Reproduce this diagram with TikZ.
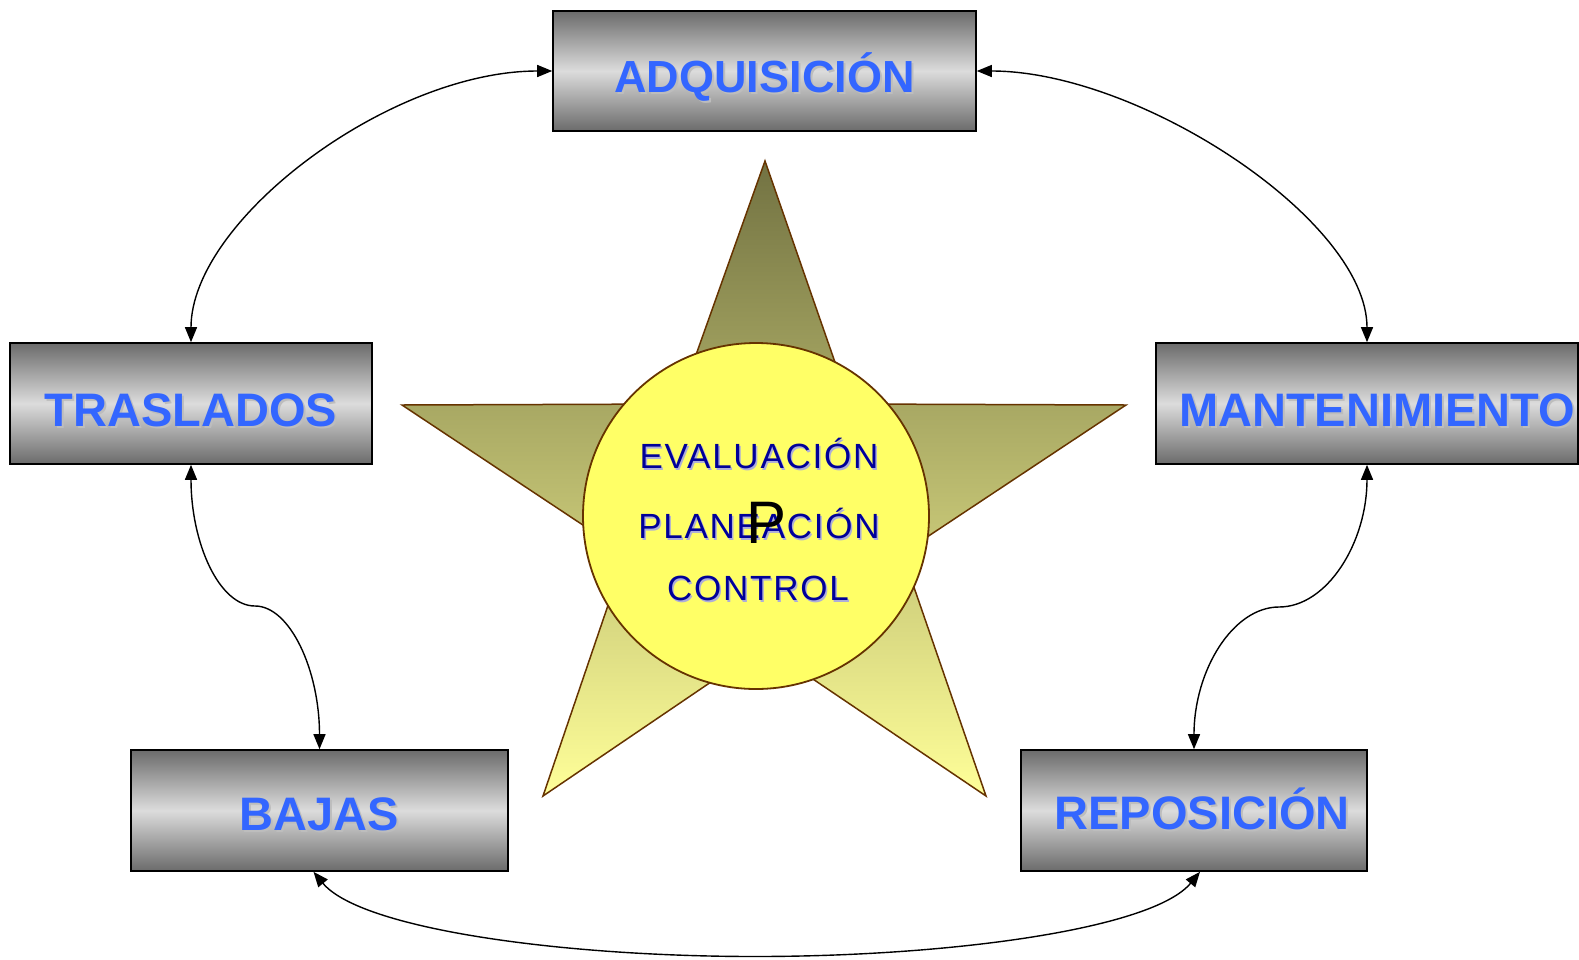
\documentclass[tikz,border=0pt]{standalone}
\usepackage{fontspec}
\setmainfont{Liberation Sans}
\newfontfamily\spacedfont[LetterSpace=5]{Liberation Sans}
\usepackage{graphicx}
\usetikzlibrary{arrows.meta}
\definecolor{boxdark}{HTML}{6B6B6B}
\definecolor{boxlight}{HTML}{DCDCDC}
\definecolor{boxtext}{HTML}{3366FF}
\definecolor{boxshadow}{HTML}{BDBDBD}
\definecolor{startop}{HTML}{727242}
\definecolor{starbot}{HTML}{FFFF99}
\definecolor{edgebrown}{HTML}{663300}
\definecolor{corefill}{HTML}{FFFF66}
\definecolor{coretext}{HTML}{000099}
\definecolor{coreshadow}{HTML}{AEAED8}
\newcommand\shadowed[3]{\rlap{\kern#2\raisebox{-#2}{\textcolor{#1}{#3}}}#3}
\newcommand\boxtxt[4]{\hspace*{#2}\raisebox{-#3}{\fontsize{#1}{#1}\selectfont\bfseries\shadowed{boxshadow}{2pt}{#4}}}
\begin{document}
\begin{tikzpicture}[x=1pt,y=-1pt,
  procbox/.style={draw=black, line width=1.6pt, top color=boxdark, bottom color=boxdark, middle color=boxlight,
    minimum height=120pt, inner sep=0pt, text=boxtext, text height=33pt, text depth=0pt},
  coretxt/.style={text=coretext, font=\spacedfont\fontsize{35}{35}\selectfont, text height=25pt, text depth=0pt, inner sep=0pt},
  link/.style={{Triangle[length=15pt,width=12pt]}-{Triangle[length=15pt,width=12pt]}, line width=1.4pt, black}]
\useasboundingbox (0,0) rectangle (1579,959);

% star
\path[top color=startop, bottom color=starbot, draw=edgebrown, line width=1.5pt, line join=miter]
  (765,161) -- (849.5,404) -- (1126,405) -- (902.3,553.4) -- (986,796) -- (764,646)
  -- (543,796) -- (625.7,553.4) -- (402,405) -- (678.5,404) -- cycle;

% core circle
\node[circle, minimum size=346pt, inner sep=0pt, fill=corefill, draw=edgebrown, line width=1.8pt] (core) at (756,516) {};
\node[coretxt] (ev) at (759,456) {\shadowed{coreshadow}{1.5pt}{EVALUACIÓN}};
\node[coretxt] (pl) at (759,526) {\shadowed{coreshadow}{1.5pt}{PLANEACIÓN}};
\node[coretxt] (co) at (758,588) {\shadowed{coreshadow}{1.5pt}{CONTROL}};
\node[font=\fontsize{60}{60}\selectfont, text height=43pt, text depth=0pt, inner sep=0pt] (p) at (766,521.5) {P};

% boxes
\node[procbox, minimum width=423pt] (adq) at (764.5,71) {\boxtxt{45}{0pt}{5pt}{ADQUISICIÓN}};
\node[procbox, minimum width=362pt, minimum height=121pt] (tras) at (191,403.5) {\boxtxt{47}{0pt}{6.5pt}{TRASLADOS}};
\node[procbox, minimum width=422pt, minimum height=121pt] (mant) at (1367,403.5) {\boxtxt{47}{20pt}{6pt}{MANTENIMIENTO}};
\node[procbox, minimum width=377pt, minimum height=121pt] (bajas) at (319.5,810.5) {\boxtxt{47}{0pt}{3pt}{BAJAS}};
\node[procbox, minimum width=346pt, minimum height=121pt] (repos) at (1194,810.5) {\boxtxt{47}{16pt}{2pt}{REPOSICIÓN}};

% helper points
\coordinate (m1) at (255,606);
\coordinate (m2) at (1279,607);
\coordinate (m3) at (755,956.5);

% connectors
\draw[link] (adq.west) .. controls +(-163,0) and +(0,-122) .. (tras.north);
\draw[link] (adq.east) .. controls +(163,0) and +(0,-122) .. (mant.north);
\draw[link] (tras.south) .. controls +(0,78) and +(-36,0) .. (m1) .. controls +(35,0) and +(0,-79) .. (bajas.north);
\draw[link] (mant.south) .. controls +(0,78) and +(48,0) .. (m2) .. controls +(-46,0) and +(0,-79) .. (repos.north);
\draw[link] ([xshift=-6pt]bajas.south) .. controls +(47,57) and +(-195,0) .. (m3) .. controls +(197,0) and +(-47,57) .. ([xshift=6pt]repos.south);
\end{tikzpicture}
\end{document}
